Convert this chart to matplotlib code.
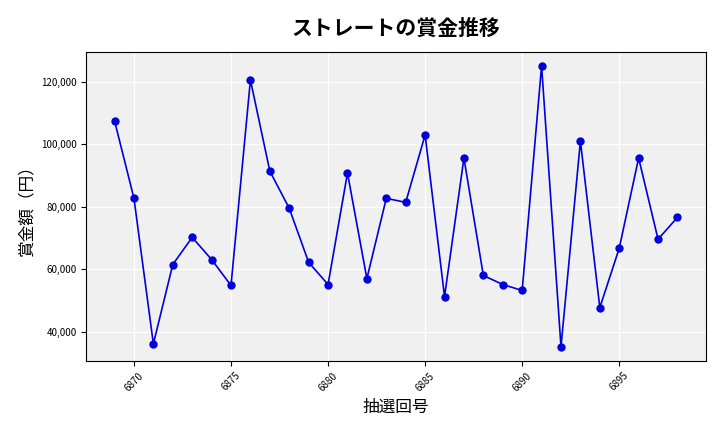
import matplotlib.pyplot as plt
from matplotlib.ticker import FuncFormatter

plt.rcParams['font.family'] = ['Noto Sans CJK JP', 'DejaVu Sans']

draws = list(range(6869, 6899))
prizes = [107500, 82700, 36100, 61500, 70200, 63100, 54800, 120600, 91400, 79500,
          62200, 55100, 90800, 57000, 82700, 81400, 103000, 51200, 95600, 58000,
          55100, 53200, 125100, 35200, 101000, 47700, 66700, 95600, 69600, 76600]

fig, ax = plt.subplots(figsize=(7.2, 4.32), dpi=100)
fig.subplots_adjust(left=0.12, right=0.98, top=0.88, bottom=0.165)
ax.set_facecolor('#f0f0f0')
ax.grid(True, color='white', linewidth=1)
ax.set_axisbelow(True)
ax.plot(draws, prizes, color='#0000dd', marker='o', markersize=5, linewidth=1.2)
ax.set_title('ストレートの賞金推移', fontsize=15, fontweight='bold', pad=12)
ax.set_xlabel('抽選回号', fontsize=12)
ax.set_ylabel('賞金額（円）', fontsize=12)
ax.yaxis.set_major_formatter(FuncFormatter(lambda v, p: f'{int(v):,}'))
ax.tick_params(axis='x', labelrotation=45, labelsize=7)
ax.tick_params(axis='y', labelsize=7)
fig.savefig('out.png')
